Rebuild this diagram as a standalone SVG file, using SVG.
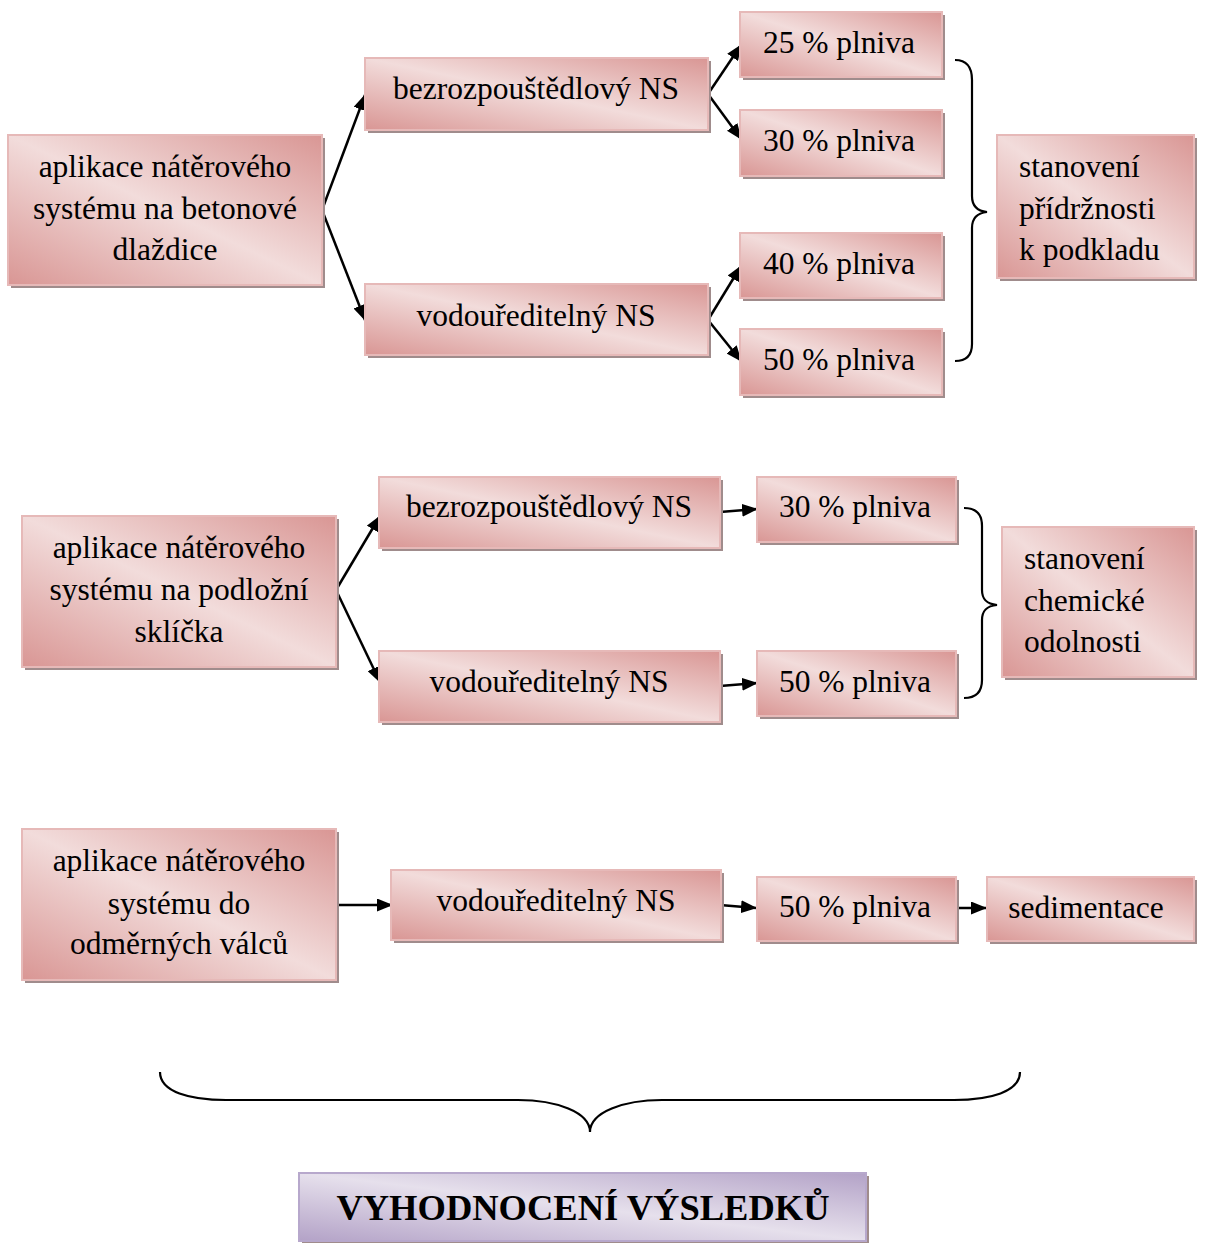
<svg xmlns="http://www.w3.org/2000/svg" width="1205" height="1243" viewBox="0 0 1205 1243">
<defs>
<linearGradient id="pink" x1="1" y1="0" x2="0" y2="1">
<stop offset="0" stop-color="#d99694"/>
<stop offset="0.5" stop-color="#f2dcdb"/>
<stop offset="1" stop-color="#d99694"/>
</linearGradient>
<linearGradient id="lav" x1="1" y1="0" x2="0" y2="1">
<stop offset="0" stop-color="#b3a2c7"/>
<stop offset="0.5" stop-color="#e6e0ec"/>
<stop offset="1" stop-color="#b3a2c7"/>
</linearGradient>
<marker id="ah" viewBox="0 0 16 13" refX="15" refY="6.5" markerWidth="16" markerHeight="13" markerUnits="userSpaceOnUse" orient="auto">
<path d="M0,0 L16,6.5 L0,13 z" fill="#000"/>
</marker>
</defs>
<style>
.box{fill:url(#pink);stroke:#e6b9b8;stroke-width:2}
.sh{fill:#a08c8c}
.lbox{fill:url(#lav);stroke:#b7a8cc;stroke-width:2}
.t{font-family:"Liberation Serif","Times New Roman",serif;font-size:31.5px;fill:#000}
.c{text-anchor:middle}
.b{font-weight:bold;font-size:36.5px}
.con{fill:none;stroke:#000;stroke-width:2.5;marker-end:url(#ah)}
.br{fill:none;stroke:#000;stroke-width:2.2}
</style>

<g id="connectors">
<path class="con" d="M322,210 L365,95"/>
<path class="con" d="M322,210 L365,320"/>
<path class="con" d="M708,94 L741,45"/>
<path class="con" d="M708,94 L741,139"/>
<path class="con" d="M708,320 L741,266"/>
<path class="con" d="M708,320 L741,361"/>
<path class="con" d="M336,590 L380,516"/>
<path class="con" d="M336,590 L380,682"/>
<path class="con" d="M720,512 L757,509"/>
<path class="con" d="M720,686 L757,683"/>
<path class="con" d="M334,905 L392,905"/>
<path class="con" d="M720,905 L756,908"/>
<path class="con" d="M954,908 L986,908"/>
</g>

<g id="braces">
<path class="br" d="M955,60 C966,60 972,66 972,80 L972,196 C972,206 977,211 987,212 C977,213 972,218 972,228 L972,344 C972,356 966,361 955,361"/>
<path class="br" d="M964,508 C976,508 982,514 982,526 L982,590 C982,600 987,604 997,605 C987,606 982,610 982,620 L982,680 C982,692 976,698 964,698"/>
<path class="br" d="M160,1072 C160,1092 190,1100 226,1100 L518,1100 C556,1100 590,1112 590,1132 C590,1112 624,1100 662,1100 L954,1100 C990,1100 1020,1092 1020,1072"/>
</g>

<g id="n-a1"><rect class="sh" x="11" y="138" width="314" height="150"/><rect class="box" x="8" y="135" width="314" height="150"/>
<text class="t c" x="165" y="177">aplikace nátěrového</text><text class="t c" x="165" y="219">systému na betonové</text><text class="t c" x="165" y="260">dlaždice</text></g>
<g id="n-b1"><rect class="sh" x="368" y="61" width="343" height="72"/><rect class="box" x="365" y="58" width="343" height="72"/>
<text class="t c" x="536" y="99">bezrozpouštědlový NS</text></g>
<g id="n-v1"><rect class="sh" x="368" y="287" width="343" height="71"/><rect class="box" x="365" y="284" width="343" height="71"/>
<text class="t c" x="536" y="326">vodouředitelný NS</text></g>
<g id="n-p25"><rect class="sh" x="743" y="15" width="202" height="65"/><rect class="box" x="740" y="12" width="202" height="65"/>
<text class="t c" x="839" y="53">25 % plniva</text></g>
<g id="n-p30"><rect class="sh" x="743" y="113" width="202" height="66"/><rect class="box" x="740" y="110" width="202" height="66"/>
<text class="t c" x="839" y="151">30 % plniva</text></g>
<g id="n-p40"><rect class="sh" x="743" y="236" width="202" height="65"/><rect class="box" x="740" y="233" width="202" height="65"/>
<text class="t c" x="839" y="274">40 % plniva</text></g>
<g id="n-p50"><rect class="sh" x="743" y="332" width="202" height="66"/><rect class="box" x="740" y="329" width="202" height="66"/>
<text class="t c" x="839" y="370">50 % plniva</text></g>
<g id="n-s1"><rect class="sh" x="1000" y="138" width="197" height="143"/><rect class="box" x="997" y="135" width="197" height="143"/>
<text class="t" x="1019" y="177">stanovení</text><text class="t" x="1019" y="219">přídržnosti</text><text class="t" x="1019" y="260">k podkladu</text></g>

<g id="n-a2"><rect class="sh" x="25" y="519" width="314" height="151"/><rect class="box" x="22" y="516" width="314" height="151"/>
<text class="t c" x="179" y="558">aplikace nátěrového</text><text class="t c" x="179" y="600">systému na podložní</text><text class="t c" x="179" y="642">sklíčka</text></g>
<g id="n-b2"><rect class="sh" x="382" y="480" width="341" height="71"/><rect class="box" x="379" y="477" width="341" height="71"/>
<text class="t c" x="549" y="517">bezrozpouštědlový NS</text></g>
<g id="n-v2"><rect class="sh" x="382" y="654" width="341" height="71"/><rect class="box" x="379" y="651" width="341" height="71"/>
<text class="t c" x="549" y="692">vodouředitelný NS</text></g>
<g id="n-p30b"><rect class="sh" x="760" y="480" width="199" height="65"/><rect class="box" x="757" y="477" width="199" height="65"/>
<text class="t c" x="855" y="517">30 % plniva</text></g>
<g id="n-p50b"><rect class="sh" x="760" y="654" width="199" height="65"/><rect class="box" x="757" y="651" width="199" height="65"/>
<text class="t c" x="855" y="692">50 % plniva</text></g>
<g id="n-s2"><rect class="sh" x="1005" y="530" width="192" height="150"/><rect class="box" x="1002" y="527" width="192" height="150"/>
<text class="t" x="1024" y="569">stanovení</text><text class="t" x="1024" y="611">chemické</text><text class="t" x="1024" y="652">odolnosti</text></g>

<g id="n-a3"><rect class="sh" x="25" y="832" width="314" height="151"/><rect class="box" x="22" y="829" width="314" height="151"/>
<text class="t c" x="179" y="871">aplikace nátěrového</text><text class="t c" x="179" y="914">systému do</text><text class="t c" x="179" y="954">odměrných válců</text></g>
<g id="n-v3"><rect class="sh" x="394" y="873" width="330" height="70"/><rect class="box" x="391" y="870" width="330" height="70"/>
<text class="t c" x="556" y="911">vodouředitelný NS</text></g>
<g id="n-p50c"><rect class="sh" x="760" y="880" width="199" height="64"/><rect class="box" x="757" y="877" width="199" height="64"/>
<text class="t c" x="855" y="917">50 % plniva</text></g>
<g id="n-sed"><rect class="sh" x="990" y="880" width="207" height="64"/><rect class="box" x="987" y="877" width="207" height="64"/>
<text class="t c" x="1086" y="918">sedimentace</text></g>

<g id="n-final"><rect class="sh" x="302" y="1176" width="567" height="68"/><rect class="lbox" x="299" y="1173" width="567" height="68"/>
<text class="t c b" x="583" y="1220">VYHODNOCENÍ VÝSLEDKŮ</text></g>
</svg>
